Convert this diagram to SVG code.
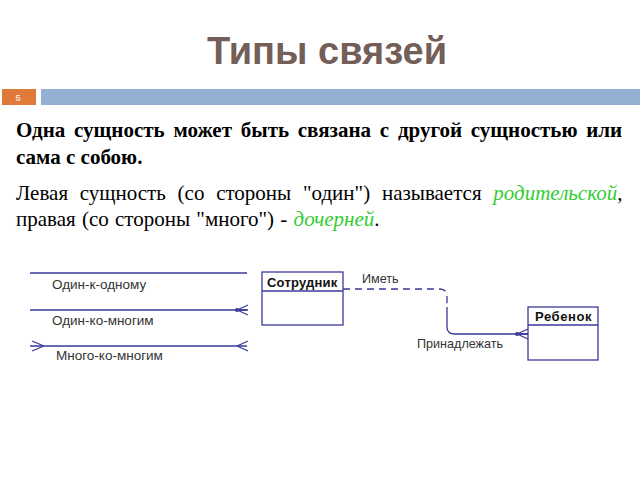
<svg xmlns="http://www.w3.org/2000/svg" width="640" height="480" viewBox="0 0 640 480">
<style>
.t{font-family:"Liberation Sans",Arial,sans-serif}
.s{font-family:"Liberation Serif","Times New Roman",serif;font-size:21px;fill:#000}
.lbl{font-family:"Liberation Sans",Arial,sans-serif;font-size:13.5px;fill:#333}
.lb2{font-family:"Liberation Sans",Arial,sans-serif;font-size:12.6px;fill:#333}
.ln{stroke:#3a3a9a;stroke-width:1.3;fill:none}
.box{fill:#fff;stroke:#3a3a9a;stroke-width:1.3}
.en{font-family:"Liberation Sans",Arial,sans-serif;font-size:13px;font-weight:bold;fill:#111}
.g{fill:#33cc33;font-style:italic}
</style>
<rect width="640" height="480" fill="#fff"/>
<text class="t" x="327" y="64" text-anchor="middle" font-size="38" font-weight="bold" fill="#735e58">Типы связей</text>
<rect x="2" y="89" width="34" height="16" fill="#e07a3a"/>
<text class="t" x="18" y="101" text-anchor="middle" font-size="9" font-weight="bold" fill="#fbe0c8">5</text>
<rect x="41" y="89" width="599" height="16" fill="#93b1d1"/>
<text class="s" font-weight="bold" x="16" y="137" word-spacing="3.5">Одна сущность может быть связана с другой сущностью или</text>
<text class="s" font-weight="bold" x="16" y="164">сама с собою.</text>
<text class="s" x="16" y="200" word-spacing="6.5">Левая сущность (со стороны "один") называется <tspan class="g">родительской</tspan>,</text>
<text class="s" x="16" y="226" word-spacing="1">правая (со стороны "много") - <tspan class="g">дочерней</tspan>.</text>
<g id="legend">
<line class="ln" x1="30" y1="273" x2="247" y2="273"/>
<text class="lbl" x="52" y="289">Один-к-одному</text>
<line class="ln" x1="30" y1="310" x2="247" y2="310"/>
<path class="ln" d="M237 310 L248 305 M237 310 L248 310 M237 310 L248 315"/>
<circle cx="237" cy="310" r="2" fill="#3a3a9a"/>
<text class="lbl" x="52" y="325">Один-ко-многим</text>
<line class="ln" x1="30" y1="346" x2="247" y2="346"/>
<path class="ln" d="M237 346 L248 341 M237 346 L248 351 M44 346 L32 341 M44 346 L32 351"/>
<text class="lbl" x="56" y="360">Много-ко-многим</text>
</g>
<g id="connectors">
<path class="ln" stroke-dasharray="7,5" d="M343 289 H440 Q447 289 447 297 V305"/>
<path class="ln" d="M447 307 V327 Q447 334 455 334 H528"/>
<path class="ln" d="M517 334 L528 329 M517 334 L528 334 M517 334 L528 339"/>
<circle cx="517" cy="334" r="2" fill="#3a3a9a"/>
<text class="lb2" x="362" y="283">Иметь</text>
<text class="lb2" x="417" y="348">Принадлежать</text>
</g>
<g id="sotrudnik">
<rect class="box" x="262" y="272" width="81" height="53"/>
<line class="ln" x1="262" y1="291" x2="343" y2="291"/>
<text class="en" x="267" y="287" letter-spacing="0.2">Сотрудник</text>
</g>
<g id="rebenok">
<rect class="box" x="528" y="307" width="70" height="53"/>
<line class="ln" x1="528" y1="325" x2="598" y2="325"/>
<text class="en" x="535" y="321" letter-spacing="0.6">Ребенок</text>
</g>
</svg>
